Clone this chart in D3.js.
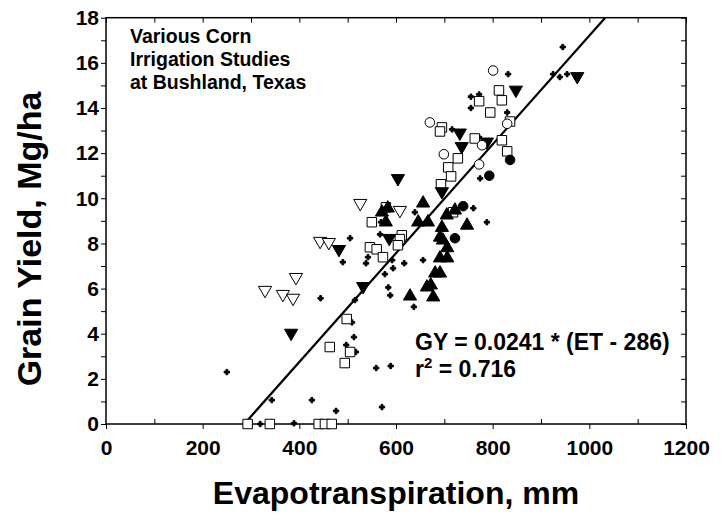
<!DOCTYPE html>
<html><head><meta charset="utf-8">
<script src="https://cdn.jsdelivr.net/npm/d3@7"></script>
<style>
body{margin:0;background:#fff}
text{font-family:Arial,"Liberation Sans",sans-serif;font-weight:bold;fill:#000}
</style>
</head><body>
<svg id="c" width="722" height="523"></svg>
<script>
// ---- data: [ET (mm), grain yield (Mg/ha)] ----
const smallPlus = [[584,6.05],[588,5.7],[637,5.19],[444,5.57],[515,5.49],[509,4.5],[513,3.85],[497,3.5],[517,3.19],[559,2.48],[589,2.57],[343,1.06],[426,1.06],[476,0.58],[571,0.75],[389,0.03],[319,0],[250,2.3],[505,8.23],[567,8.4],[490,7.17],[538,7.12],[542,7.39],[592,7.26],[617,7.12],[594,6.9],[577,6.64],[656,7.26],[639,9.38],[569,8.94],[774,10.88],[760,9.56],[788,8.94],[832,15.5],[755,14.5],[772,14.6],[755,14.0],[830,13.8],[716,13.05],[772,12.7],[925,15.5],[939,15.37],[954,15.5],[945,16.7]];
const openSquares = [[813,14.78],[819,14.34],[772,14.3],[795,13.8],[695,13.14],[691,12.96],[836,13.4],[763,12.65],[819,12.57],[830,12.08],[728,11.77],[708,11.37],[714,10.97],[693,10.62],[718,9.38],[579,9.6],[550,8.94],[612,8.36],[608,8.19],[604,7.92],[546,7.83],[560,7.74],[573,7.39],[498,4.65],[463,3.41],[505,3.19],[494,2.7],[293,0],[339,0],[440,0],[453,0],[467,0]];
const filledUp = [[571,9.38],[583,9.56],[579,8.94],[656,9.78],[646,8.94],[666,8.94],[705,9.25],[722,9.47],[747,8.8],[695,8.7],[691,8.27],[697,8.14],[706,7.8],[691,7.35],[706,7.35],[681,6.68],[691,6.68],[672,6.15],[629,5.66],[664,6.06],[677,5.62]];
const filledDown = [[604,10.88],[482,7.74],[586,8.23],[532,6.1],[383,4.03],[848,14.8],[732,12.9],[736,12.3],[788,12.5],[975,15.4],[695,10.3]];
const openDown = [[526,9.78],[608,9.47],[443,8.1],[461,8.05],[393,6.5],[329,5.93],[366,5.75],[387,5.58]];
const openCircles = [[801,15.66],[670,13.36],[830,13.3],[778,12.35],[699,11.95],[772,11.5]];
const filledCircles = [[793,11.0],[739,9.65],[722,8.23],[836,11.7]];

const xMajor = [0,200,400,600,800,1000,1200];
const xMinor = [100,300,500,700,900,1100];
const yMajor = [0,2,4,6,8,10,12,14,16,18];
const yMinor = [1,3,5,7,9,11,13,15,17];
const fit = {slope:0.0241, et0:286};
const noteLines = ["Various Corn","Irrigation Studies","at Bushland, Texas"];
const eqLine = "GY = 0.0241 * (ET - 286)";

// ---- chart ----
const svg = d3.select("#c");
const L=106, R=686, T=17.7, B=424;
const x = d3.scaleLinear().domain([0,1200]).range([L,R]);
const y = d3.scaleLinear().domain([0,18]).range([B,T]);

function styleAxis(g, fs){
  g.select(".domain").remove();
  g.selectAll(".tick line").attr("stroke","#000").attr("stroke-width",1);
  g.selectAll("text").style("font-size",fs+"px").style("font-family","Arial, 'Liberation Sans', sans-serif").style("font-weight","bold").attr("fill","#000");
}
// bottom: majors outward with labels, minors inward
svg.append("g").attr("transform",`translate(0,${B})`)
  .call(d3.axisBottom(x).tickValues(xMajor).tickSize(5).tickPadding(11).tickFormat(d3.format("d")))
  .call(g=>styleAxis(g,21));
svg.append("g").attr("transform",`translate(0,${B})`)
  .call(d3.axisTop(x).tickValues(xMinor).tickSize(5).tickFormat(""))
  .call(g=>styleAxis(g,21));
// top: inward
svg.append("g").attr("transform",`translate(0,${T})`)
  .call(d3.axisBottom(x).tickValues(xMajor.concat(xMinor)).tickSize(5).tickFormat(""))
  .call(g=>styleAxis(g,21));
// left: outward with labels
svg.append("g").attr("transform",`translate(${L},0)`)
  .call(d3.axisLeft(y).tickValues(yMajor).tickSize(5).tickPadding(2).tickFormat(d3.format("d")))
  .call(g=>styleAxis(g,21));
svg.append("g").attr("transform",`translate(${L},0)`)
  .call(d3.axisLeft(y).tickValues(yMinor).tickSize(5).tickFormat(""))
  .call(g=>styleAxis(g,21));
// right: inward
svg.append("g").attr("transform",`translate(${R},0)`)
  .call(d3.axisLeft(y).tickValues(yMajor.concat(yMinor)).tickSize(5).tickFormat(""))
  .call(g=>styleAxis(g,21));

// frame
svg.append("rect").attr("x",L).attr("y",T).attr("width",R-L).attr("height",B-T)
  .attr("fill","none").attr("stroke","#000").attr("stroke-width",1.5);

// regression line from GY=0 to GY=18
const etTop = fit.et0 + 18/fit.slope;
svg.append("line")
  .attr("x1",x(fit.et0)).attr("y1",y(0))
  .attr("x2",x(etTop)).attr("y2",y(18))
  .attr("stroke","#000").attr("stroke-width",2.2);

// markers
const g = svg.append("g");
function plot(data, type, size, fill, rot){
  g.selectAll(null).data(data).enter().append("path")
    .attr("d", d3.symbol().type(type).size(size))
    .attr("transform", d=>`translate(${x(d[0])},${y(d[1])})${rot?" rotate(180)":""}`)
    .attr("fill", fill).attr("stroke","#000").attr("stroke-width",1);
}
plot(smallPlus, d3.symbolCross, 16, "#000", false);
plot(openSquares, d3.symbolSquare, 90, "#fff", false);
plot(filledUp, d3.symbolTriangle, 75, "#000", false);
plot(filledDown, d3.symbolTriangle, 75, "#000", true);
plot(openDown, d3.symbolTriangle, 75, "#fff", true);
plot(openCircles, d3.symbolCircle, 72, "#fff", false);
plot(filledCircles, d3.symbolCircle, 72, "#000", false);

// annotation text
svg.append("g").selectAll("text").data(noteLines).enter().append("text")
  .attr("x",130).attr("y",(d,i)=>43+i*23).style("font-size","19.5px").text(d=>d);
svg.append("text").attr("x",415).attr("y",350).style("font-size","23px").text(eqLine);
const r2 = svg.append("text").attr("x",415).attr("y",377).style("font-size","23px");
r2.append("tspan").text("r");
r2.append("tspan").attr("dy",-9).style("font-size","15px").text("2");
r2.append("tspan").attr("dy",9).text(" = 0.716");

// axis titles
svg.append("text").attr("x",(L+R)/2).attr("y",504).attr("text-anchor","middle")
  .style("font-size","32px").text("Evapotranspiration, mm");
svg.append("text").attr("transform",`translate(41,239) rotate(-90)`).attr("text-anchor","middle")
  .style("font-size","34px").text("Grain Yield, Mg/ha");
</script>
</body></html>
